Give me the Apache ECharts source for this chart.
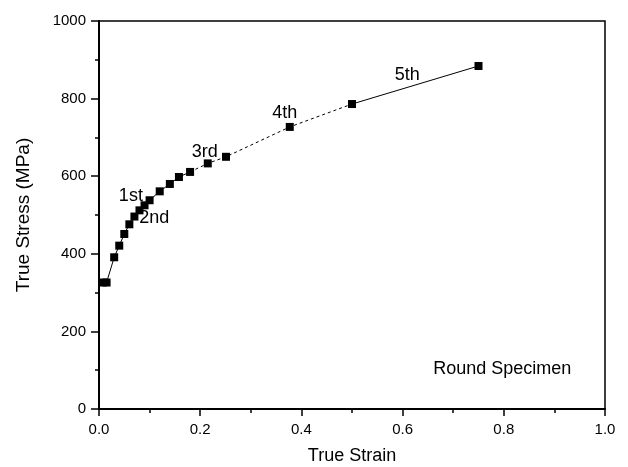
<!DOCTYPE html>
<html style="height: 100%">
<head>
    <meta charset="utf-8">
    <script type="text/javascript" src="https://cdn.jsdelivr.net/npm/echarts@6/dist/echarts.min.js"></script>
</head>
<body style="height: 100%; margin: 0; background: #fff">
    <div id="chart" style="height: 467px; width: 628px;"></div>
    <script type="text/javascript">
        // true strain / true stress
        var strain = [0.008, 0.015, 0.030, 0.040, 0.050, 0.060, 0.070, 0.080, 0.090, 0.100,
                      0.120, 0.140, 0.158, 0.180, 0.215, 0.251, 0.377, 0.500, 0.750];
        var stress = [326, 326, 391, 421, 451, 476, 496, 512, 525, 538,
                      561, 580, 598, 611, 633, 650, 727, 786, 884];

        // which points belong to each line piece
        var solidA = [0, 13];   // first to 0.18
        var dashed = [13, 17];  // 0.18 to 0.5
        var solidB = [17, 18];  // 0.5 to 0.75

        var notes = ['1st', '2nd', '3rd', '4th', '5th', 'Round Specimen'];
        var noteX = [0.063, 0.109, 0.209, 0.367, 0.609, 0.797];
        var noteY = [549, 491, 663, 763, 862, 103];

        function piece(r) {
            var out = [];
            for (var i = r[0]; i <= r[1]; i++) out.push([strain[i], stress[i]]);
            return out;
        }

        var chart = echarts.init(document.getElementById('chart'));
        var font = 'Liberation Sans, Arial, sans-serif';

        var option = {
            animation: false,
            backgroundColor: '#fff',
            textStyle: { fontFamily: font },
            grid: {
                left: 99, right: 23, top: 21, bottom: 58,
                outerBoundsMode: 'none',
                show: true, borderColor: '#000', borderWidth: 1.5
            },
            xAxis: {
                type: 'value', min: 0, max: 1, interval: 0.2,
                name: 'True Strain', nameLocation: 'middle', nameGap: 38,
                nameTextStyle: { fontSize: 18, color: '#000', fontFamily: font },
                axisLine: { lineStyle: { color: '#000', width: 2 } },
                axisTick: { inside: false, length: 7, lineStyle: { color: '#000', width: 1.5 } },
                minorTick: { show: true, splitNumber: 2, length: 4, lineStyle: { color: '#000', width: 1.5 } },
                axisLabel: { fontSize: 15, color: '#000', margin: 13, fontFamily: font,
                    formatter: function (v) { return v.toFixed(1); } },
                splitLine: { show: false }
            },
            yAxis: {
                type: 'value', min: 0, max: 1000, interval: 200,
                name: 'True Stress (MPa)', nameLocation: 'middle', nameGap: 66,
                nameTextStyle: { fontSize: 19, color: '#000', fontFamily: font },
                axisLine: { show: true, lineStyle: { color: '#000', width: 2 } },
                axisTick: { show: true, inside: false, length: 8, lineStyle: { color: '#000', width: 1.5 } },
                minorTick: { show: true, splitNumber: 2, length: 4, lineStyle: { color: '#000', width: 1.5 } },
                axisLabel: { fontSize: 15, color: '#000', margin: 13, fontFamily: font,
                    formatter: function (v) { return String(v); } },
                splitLine: { show: false }
            },
            series: [
                {
                    type: 'line', data: piece(solidA), showSymbol: false,
                    lineStyle: { color: '#000', width: 1 }
                },
                {
                    type: 'line', data: piece(dashed), showSymbol: false,
                    lineStyle: { color: '#000', width: 1, type: [3, 3] }
                },
                {
                    type: 'line', data: piece(solidB), showSymbol: false,
                    lineStyle: { color: '#000', width: 1 }
                },
                {
                    type: 'scatter', symbol: 'rect', symbolSize: 8,
                    itemStyle: { color: '#000', opacity: 1 },
                    data: strain.map(function (s, i) { return [s, stress[i]]; })
                },
                {
                    type: 'scatter', symbolSize: 1,
                    itemStyle: { color: 'transparent', opacity: 1 },
                    label: {
                        show: true, position: 'inside', color: '#000',
                        fontSize: 18, fontFamily: font,
                        formatter: function (p) { return p.name; }
                    },
                    data: notes.map(function (n, i) {
                        return { name: n, value: [noteX[i], noteY[i]] };
                    })
                }
            ]
        };
        chart.setOption(option);
    </script>
</body>
</html>
